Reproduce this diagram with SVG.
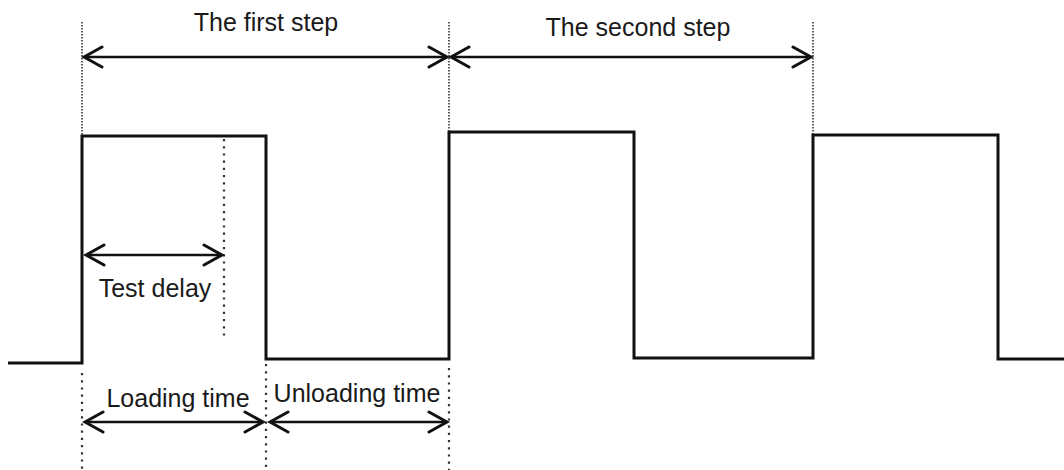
<svg xmlns="http://www.w3.org/2000/svg" width="1064" height="470" viewBox="0 0 1064 470">
<style>
.wave{fill:none;stroke:#111;stroke-width:3;stroke-linejoin:miter}
.arr{fill:none;stroke:#111;stroke-width:2.6;marker-start:url(#chev);marker-end:url(#chev)}
.dotf{fill:none;stroke:#333;stroke-width:1.6;stroke-dasharray:1.5 1.5}
.dotc{fill:none;stroke:#333;stroke-width:2.2;stroke-dasharray:2.2 5;stroke-linecap:butt}
.lbl{font-family:"Liberation Sans",Arial,sans-serif;fill:#1a1a1a;text-anchor:middle;font-size:25px}
</style>
<defs>
<marker id="chev" viewBox="0 0 24 26" markerWidth="24" markerHeight="26" refX="21" refY="13" orient="auto-start-reverse" markerUnits="userSpaceOnUse">
<path d="M3,3 L21,13 L3,23" fill="none" stroke="#111" stroke-width="3" stroke-linecap="round" stroke-linejoin="miter"/>
</marker>
</defs>
<g id="waveform">
<path class="wave" d="M8,363 H82 V136 H266 V359 H449 V132 H634 V358 H813 V135 H998 V359 H1064"/>
</g>
<g id="guides">
<line class="dotf" x1="82" y1="22" x2="82" y2="135"/>
<line class="dotf" x1="449" y1="22" x2="449" y2="131"/>
<line class="dotf" x1="813" y1="22" x2="813" y2="134"/>
<line class="dotc" x1="224" y1="139" x2="224" y2="337"/>
<line class="dotc" x1="82" y1="373" x2="82" y2="470"/>
<line class="dotc" x1="266" y1="364" x2="266" y2="470"/>
<line class="dotc" x1="449" y1="368" x2="449" y2="470"/>
</g>
<g id="connectors">
<line class="arr" x1="84" y1="57" x2="447" y2="57"/>
<line class="arr" x1="451" y1="57" x2="811" y2="57"/>
<line class="arr" x1="86" y1="255" x2="222" y2="255"/>
<line class="arr" x1="85" y1="422" x2="263" y2="422"/>
<line class="arr" x1="270" y1="422" x2="447" y2="422"/>
</g>
<g id="label-first-step"><text class="lbl" x="266" y="31">The first step</text></g>
<g id="label-second-step"><text class="lbl" x="638" y="36">The second step</text></g>
<g id="label-test-delay"><text class="lbl" x="155" y="297">Test delay</text></g>
<g id="label-loading"><text class="lbl" x="178" y="407">Loading time</text></g>
<g id="label-unloading"><text class="lbl" x="357" y="402">Unloading time</text></g>
</svg>
